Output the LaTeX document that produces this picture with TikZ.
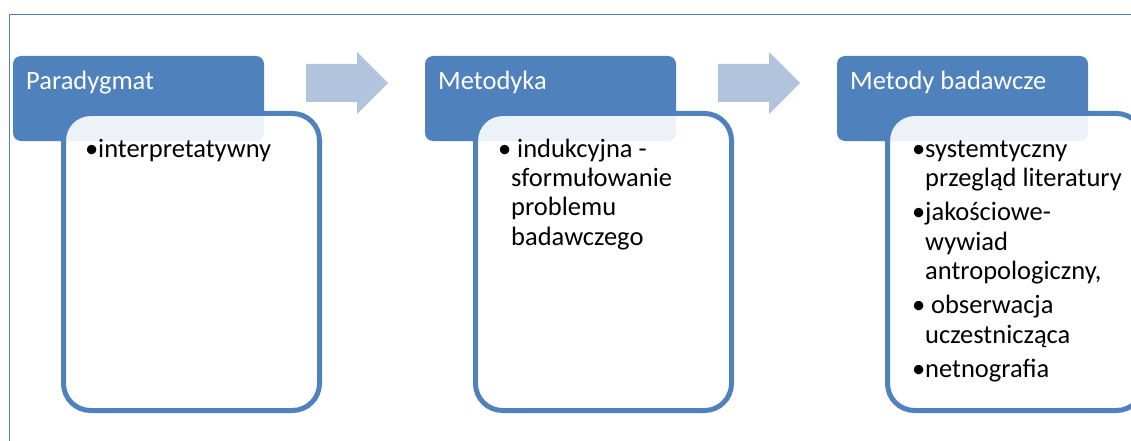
\documentclass[tikz,border=0pt]{standalone}
\usepackage{fontspec}
\setmainfont{Carlito}
\definecolor{acc}{HTML}{4F81BD}
\definecolor{arr}{HTML}{B2C3DE}
\newcommand\bul[1]{\par\hangindent=13pt\hangafter=1\noindent\makebox[13pt][l]{•}#1\par}
\begin{document}
\begin{tikzpicture}[x=1pt,y=-1pt,
  head/.style={fill=acc, rounded corners=8pt, minimum width=251pt, minimum height=85pt, anchor=north west, inner sep=0pt, outer sep=0pt},
  bodybox/.style={draw=acc, line width=5pt, fill=white, fill opacity=0.9, rounded corners=27pt, minimum width=256pt, minimum height=297pt, anchor=north west, inner sep=0pt, outer sep=0pt},
  headtext/.style={text=white, font=\fontsize{26.5}{30}\selectfont, anchor=base west, inner sep=0pt},
  listtext/.style={anchor=base west, inner sep=0pt, text width=260pt, align=flush left, font=\fontsize{26.5}{29.5}\selectfont},
  blockarrow/.style={fill=arr}
]
\useasboundingbox (0,0) rectangle (1131,441);
\clip (0,0) rectangle (1131,441);
% frame
\draw[acc, line width=1.3pt] (1140,14.5) -- (9.5,14.5) -- (9.5,450);
% headers
\node[head] (h1) at (13,56) {};
\node[head] (h2) at (425,56) {};
\node[head] (h3) at (837,56) {};
% bodies
\node[bodybox] (b1) at (63.5,113.5) {};
\node[bodybox] (b2) at (475.5,113.5) {};
\node[bodybox] (b3) at (887.5,113.5) {};
% header texts
\node[headtext] (t1) at (26,90) {Paradygmat};
\node[headtext] (t2) at (438,90) {Metodyka};
\node[headtext] (t3) at (850,90) {Metody badawcze};
% arrows
\fill[blockarrow] (306,64) -- (357,64) -- (357,52) -- (388,83) -- (357,114) -- (357,102) -- (306,102) -- cycle;
\fill[blockarrow] (718,64) -- (769,64) -- (769,52) -- (800,83) -- (769,114) -- (769,102) -- (718,102) -- cycle;
% lists
\node[listtext] (l1) at (85,127.5) {\bul{interpretatywny}};
\node[listtext] (l2) at (498,127.5) {\bul{\ indukcyjna -\newline sformułowanie\newline problemu\newline badawczego}};
\node[listtext] (l3) at (912,127.5) {\bul{systemtyczny\newline przegląd literatury}\vspace{4.5pt}\bul{jakościowe-\newline wywiad\newline antropologiczny,}\vspace{4.5pt}\bul{\ obserwacja\newline uczestnicząca}\vspace{4.5pt}\bul{netnografia}};
\end{tikzpicture}
\end{document}
